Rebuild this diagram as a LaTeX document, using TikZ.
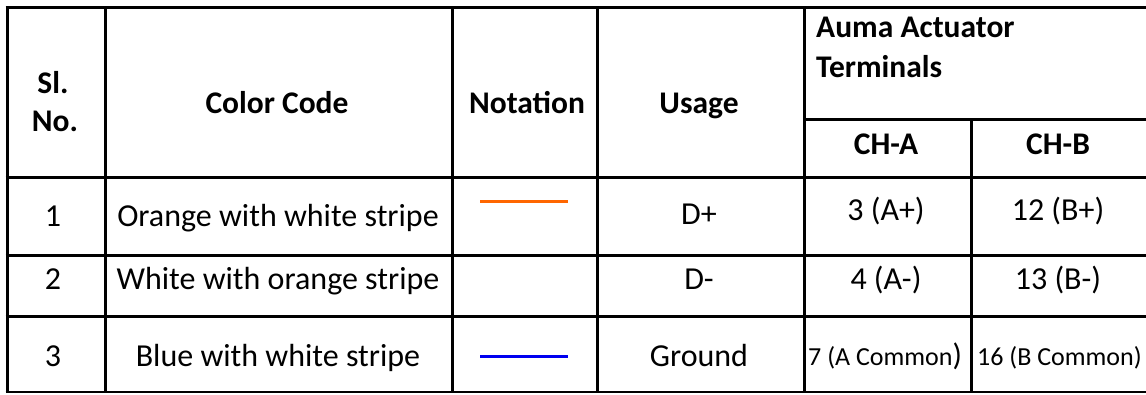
\documentclass[tikz,border=0pt]{standalone}
\usepackage{fontspec}
\setmainfont{Carlito}
\definecolor{wireorange}{RGB}{255,102,0}
\definecolor{wireblue}{RGB}{0,0,240}
\begin{document}
\begin{tikzpicture}[x=1pt,y=-1pt,
  grid/.style={line width=3pt,black},
  thin grid/.style={line width=1.6pt,black},
  txt/.style={inner sep=0pt,anchor=base,font=\fontsize{32}{38}\selectfont},
  hd/.style={inner sep=0pt,anchor=base,font=\fontsize{31.5}{38}\selectfont\bfseries},
  small/.style={inner sep=0pt,anchor=base west,font=\fontsize{26}{31}\selectfont},
  wire/.style={line width=3pt}]
\useasboundingbox (0,0) rectangle (1146,394);
\fill[white] (0,0) rectangle (1146,394);
% grid
\draw[grid] (5.5,7.5) -- (1146,7.5);
\draw[grid] (804,119) -- (1146,119);
\draw[grid] (5.5,177.5) -- (1146,177.5);
\draw[grid] (5.5,255.5) -- (1146,255.5);
\draw[grid] (5.5,316.5) -- (1146,316.5);
\draw[thin grid] (5.5,392.2) -- (1146,392.2);
\foreach \x in {7,105.5,452.5,597.5,804} \draw[grid] (\x,6) -- (\x,393);
\draw[grid] (971.5,119) -- (971.5,393);
% header
\node[hd] (sl) at (53,93) {Sl.};
\node[hd] (no) at (55,131) {No.};
\node[hd] (cc) at (277,113) {Color Code};
\node[hd] (nt) at (527,113) {Notation};
\node[hd] (us) at (699,113) {Usage};
\node[hd,anchor=base west] (au) at (816,37) {Auma Actuator};
\node[hd,anchor=base west] (te) at (816,77) {Terminals};
\node[hd] (cha) at (886,154) {CH-A};
\node[hd] (chb) at (1058,154) {CH-B};
% row 1
\node[txt] (n1) at (53,226) {1};
\node[txt] (c1) at (278,226) {Orange with white stripe};
\coordinate (o1) at (480,201);
\coordinate (o2) at (568,201);
\draw[wire,wireorange] (o1) -- (o2);
\node[txt] (u1) at (699,224) {D+};
\node[txt] (a1) at (886,220) {3 (A+)};
\node[txt] (b1) at (1058,220) {12 (B+)};
% row 2
\node[txt] (n2) at (53,289) {2};
\node[txt] (c2) at (278,289) {White with orange stripe};
\node[txt] (u2) at (699,289) {D-};
\node[txt] (a2) at (886,289) {4 (A-)};
\node[txt] (b2) at (1058,289) {13 (B-)};
% row 3
\node[txt] (n3) at (53,366) {3};
\node[txt] (c3) at (278,366) {Blue with white stripe};
\coordinate (bl1) at (480,356);
\coordinate (bl2) at (568,356);
\draw[wire,wireblue] (bl1) -- (bl2);
\node[txt] (u3) at (699,366) {Ground};
\node[small] (a3) at (808,365) {7 (A Common\fontsize{31}{37}\selectfont)};
\node[small] (b3) at (977,365) {16 (B Common)};
\end{tikzpicture}
\end{document}
